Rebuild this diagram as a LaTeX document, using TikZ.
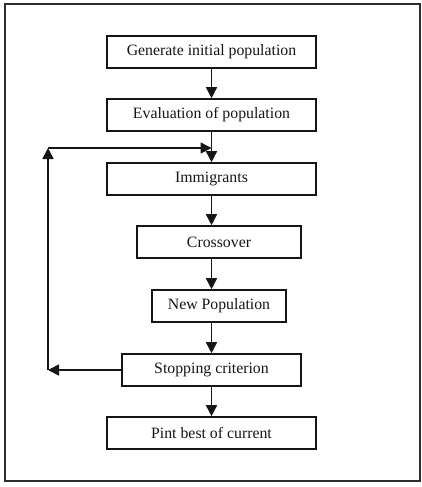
\documentclass[tikz,border=0pt]{standalone}
\usepackage{fontspec}
\setmainfont{Liberation Serif}
\usetikzlibrary{arrows.meta}
\definecolor{chartink}{HTML}{151515}
\definecolor{chartframe}{HTML}{2E2E2E}

\begin{document}
\begin{tikzpicture}[
  x=1pt,
  y=-1pt,
  every node/.style={font=\fontsize{15.8}{18}\selectfont, chartink},
  stepbox/.style={draw=chartink, line width=1.6pt, minimum height=32pt,
    inner sep=0pt},
  flow/.style={chartink, line width=1.6pt,
    -{Triangle[length=11pt, width=11pt]}},
  frame/.style={chartframe, line width=2pt}
]
  % ---- page and outer frame ---------------------------------------------
  \useasboundingbox (0,0) rectangle (421,487);
  \draw[frame] (4.5,4.5) rectangle (419.5,480.5);

  % ---- the seven steps ---------------------------------------------------
  \node[stepbox, minimum width=209pt] (gen)   at (211.5,52)  {Generate initial population};
  \node[stepbox, minimum width=209pt] (eval)  at (211.5,115) {Evaluation of population};
  \node[stepbox, minimum width=209pt] (imm)   at (211.5,179) {Immigrants};
  \node[stepbox, minimum width=164pt] (cross) at (219,242)   {Crossover};
  \node[stepbox, minimum width=134pt] (newp)  at (219,306)   {New Population};
  \node[stepbox, minimum width=179pt] (stop)  at (211.5,370) {Stopping criterion};
  \node[stepbox, minimum width=209pt] (pint)  at (211.5,433) {Pint best of current};

  % ---- main flow, all on the middle line ---------------------------------
  \draw[flow] (gen.south) -- (eval.north);
  \draw[flow] (eval.south) -- (imm.north);
  \draw[flow] (imm.south) -- (imm.south |- cross.north);
  \draw[flow] (imm.south |- cross.south) -- (imm.south |- newp.north);
  \draw[flow] (imm.south |- newp.south) -- (stop.north);
  \draw[flow] (stop.south) -- (pint.north);

  % ---- loop back from the stopping criterion -----------------------------
  \coordinate (loopl) at (48,370);
  \coordinate (loopt) at (48,148);
  \coordinate (loopm) at (211.5,148);
  \draw[flow] (stop.west) -- (loopl);
  \draw[flow] (loopl) -- (loopt);
  \draw[flow] (loopt) -- (loopm);

\end{tikzpicture}
\end{document}
